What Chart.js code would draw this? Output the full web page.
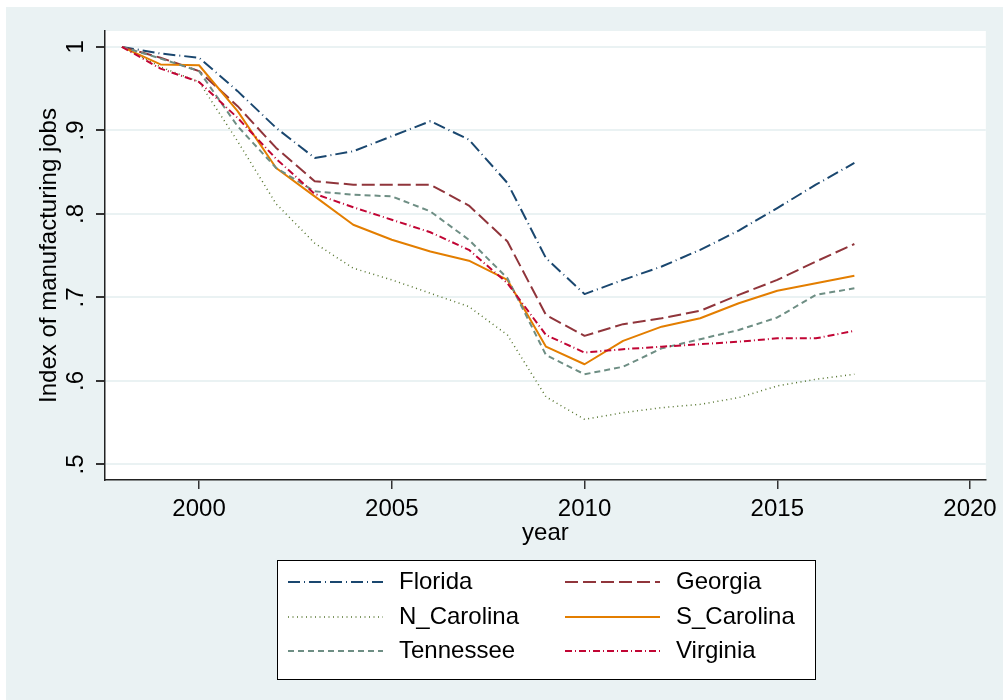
<!doctype html>
<html>
<head>
<meta charset="utf-8">
<script src="https://cdn.jsdelivr.net/npm/chart.js@4.4.1/dist/chart.umd.min.js"></script>
<style>
  html,body{margin:0;padding:0;background:#fff}
  #wrap{position:relative;width:1003px;height:700px}
</style>
</head>
<body>
<div id="wrap"><canvas id="c" width="1003" height="700"></canvas></div>
<script>
// 数据：按年读图（1998 = 1 的制造业就业指数）
const years = [1998, 1999, 2000, 2001, 2002, 2003, 2004, 2005, 2006, 2007,
               2008, 2009, 2010, 2011, 2012, 2013, 2014, 2015, 2016, 2017];
const florida   = [1.000, .992, .987, .947, .903, .867, .875, .893, .911, .889, .837, .747, .704, .721, .737, .757, .780, .807, .835, .861];
const georgia   = [1.000, .987, .971, .929, .879, .839, .835, .835, .835, .810, .767, .679, .654, .668, .675, .684, .703, .721, .743, .764];
const nCarolina = [1.000, .976, .958, .887, .812, .765, .735, .721, .705, .689, .655, .581, .554, .562, .568, .572, .580, .594, .602, .608];
const sCarolina = [1.000, .979, .978, .923, .855, .821, .787, .769, .755, .744, .721, .641, .620, .648, .665, .675, .693, .708, .717, .726];
const tennessee = [1.000, .986, .971, .905, .855, .827, .823, .821, .803, .769, .723, .631, .608, .617, .639, .650, .661, .676, .703, .711];
const virginia  = [1.000, .974, .958, .915, .866, .824, .808, .793, .778, .757, .717, .655, .634, .638, .641, .644, .647, .651, .651, .660];

const seriesNames = ["Florida", "Georgia", "N_Carolina", "S_Carolina", "Tennessee", "Virginia"];
const xTicks = [2000, 2005, 2010, 2015, 2020];
const yTicks = [0.5, 0.6, 0.7, 0.8, 0.9, 1];
const yTickLabels = [".5", ".6", ".7", ".8", ".9", "1"];

const FONT = "'Liberation Sans', Arial, sans-serif";
const FS = 24;
const BG = "#eaf2f3";

// Stata s2color 的线型
const styles = [
  { color: "#1a476f", dash: [12, 4, 1, 4], width: 2 },
  { color: "#90353b", dash: [13, 5], width: 2 },
  { color: "#55752f", dash: [1, 3.5], width: 1.5 },
  { color: "#e37e00", dash: [], width: 2 },
  { color: "#6e8e84", dash: [6, 4], width: 2 },
  { color: "#c10534", dash: [7, 3, 1, 3], width: 2 },
];
const values = [florida, georgia, nCarolina, sCarolina, tennessee, virginia];

const datasets = values.map((vals, i) => ({
  label: seriesNames[i],
  data: years.map((yr, k) => ({ x: yr, y: vals[k] })),
  borderColor: styles[i].color,
  borderDash: styles[i].dash,
  borderWidth: styles[i].width,
  borderJoinStyle: "round",
  pointRadius: 0,
  tension: 0,
  fill: false,
  order: 6 - i,
}));

/** 背景：白边 + 浅蓝灰底 + 白色绘图区（Stata 风格）。 */
const bgPlugin = {
  id: "stataBg",
  beforeDraw(chart) {
    const c = chart.ctx, a = chart.chartArea;
    c.save();
    c.fillStyle = "#fff";
    c.fillRect(0, 0, chart.width, chart.height);
    c.fillStyle = BG;
    c.fillRect(6, 7, chart.width - 6, chart.height - 7);
    c.fillStyle = "#fff";
    c.fillRect(a.left, a.top, a.right - a.left, a.bottom - a.top);
    c.restore();
  },
};

/** 竖排 y 轴刻度、轴标题和底部图例。 */
const textPlugin = {
  id: "stataText",
  afterDraw(chart) {
    const c = chart.ctx, a = chart.chartArea, ys = chart.scales.y;
    c.save();
    c.fillStyle = "#000";
    c.font = FS + "px " + FONT;
    c.textAlign = "center";
    c.textBaseline = "middle";
    yTicks.forEach((v, i) => {
      const py = ys.getPixelForValue(v);
      c.save();
      c.translate(76, py);
      c.rotate(-Math.PI / 2);
      c.fillText(yTickLabels[i], 0, 0);
      c.restore();
    });
    c.save();
    c.translate(49, (a.top + a.bottom) / 2);
    c.rotate(-Math.PI / 2);
    c.fillText("Index of manufacturing jobs", 0, 0);
    c.restore();
    c.fillText("year", (a.left + a.right) / 2, 533);

    // 图例框
    c.fillStyle = "#fff";
    c.fillRect(277, 560, 538, 119);
    c.strokeStyle = "#000";
    c.lineWidth = 1;
    c.strokeRect(277.5, 560.5, 538, 119);
    const rowsY = [582, 617, 651];
    const cols = [{ x0: 288, x1: 383, tx: 399 }, { x0: 565, x1: 660, tx: 676 }];
    seriesNames.forEach((name, i) => {
      const col = cols[i % 2], ry = rowsY[Math.floor(i / 2)];
      c.beginPath();
      c.setLineDash(styles[i].dash);
      c.strokeStyle = styles[i].color;
      c.lineWidth = styles[i].width;
      c.moveTo(col.x0, ry);
      c.lineTo(col.x1, ry);
      c.stroke();
      c.setLineDash([]);
      c.fillStyle = "#000";
      c.textAlign = "left";
      c.fillText(name, col.tx, ry);
    });
    c.restore();
  },
};

new Chart(document.getElementById("c"), {
  type: "line",
  data: { datasets },
  plugins: [bgPlugin, textPlugin],
  options: {
    responsive: false,
    animation: false,
    events: [],
    layout: { padding: { left: 0, top: 31, right: 16, bottom: 0 } },
    plugins: { legend: { display: false }, tooltip: { enabled: false } },
    scales: {
      x: {
        type: "linear",
        min: 1997.56,
        max: 2020.41,
        afterBuildTicks: (s) => { s.ticks = xTicks.map((v) => ({ value: v })); },
        afterFit: (s) => { s.height = 220; },
        ticks: { color: "#000", font: { size: FS, family: FONT }, padding: 6, maxRotation: 0, callback: (v) => String(v) },
        grid: { drawOnChartArea: false, tickColor: "#333", tickLength: 9, lineWidth: 1.5 },
        border: { color: "#222", width: 1.5 },
      },
      y: {
        type: "linear",
        min: 0.4814,
        max: 1.019,
        afterBuildTicks: (s) => { s.ticks = yTicks.map((v) => ({ value: v })); },
        afterFit: (s) => { s.width = 105; },
        ticks: { display: false },
        grid: { color: BG, lineWidth: 2, tickColor: "#333", tickLength: 9 },
        border: { color: "#222", width: 1.5 },
      },
    },
  },
});
</script>
</body>
</html>
